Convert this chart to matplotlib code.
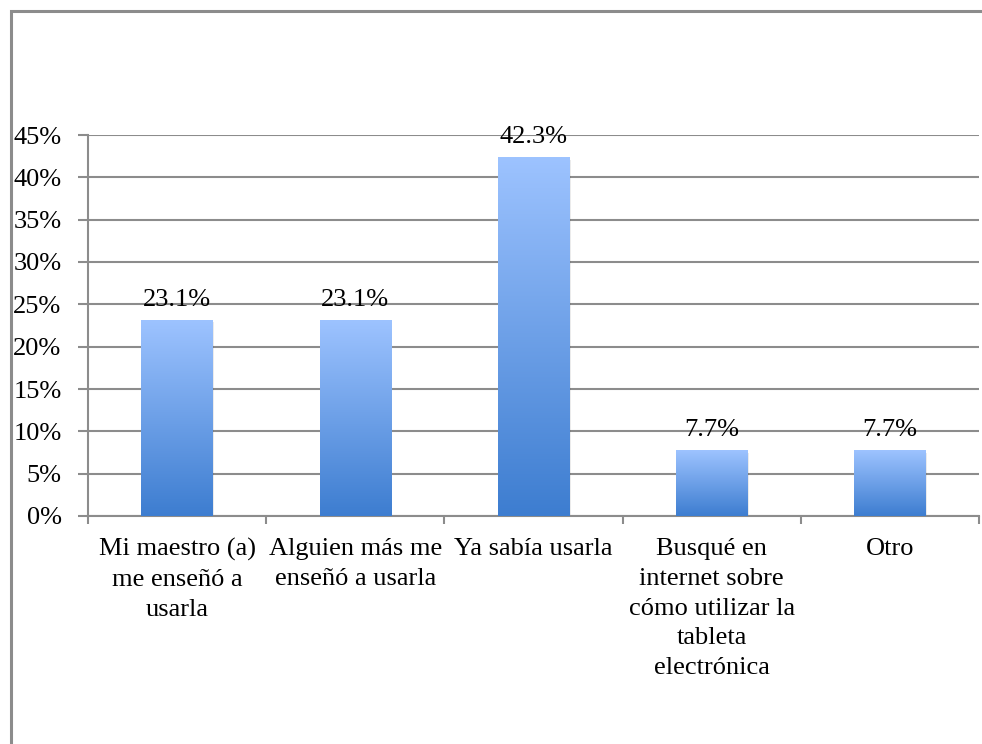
import matplotlib
matplotlib.use("Agg")
import matplotlib.pyplot as plt
import numpy as np
from matplotlib.colors import LinearSegmentedColormap
from matplotlib.patches import Rectangle

categories = ["Mi maestro (a)\nme enseñó a\nusarla",
              "Alguien más me\nenseñó a usarla",
              "Ya sabía usarla",
              "Busqué en\ninternet sobre\ncómo utilizar la\ntableta\nelectrónica",
              "Otro"]
values = [23.1, 23.1, 42.3, 7.7, 7.7]
value_labels = ["23.1%", "23.1%", "42.3%", "7.7%", "7.7%"]
yticks = [0, 5, 10, 15, 20, 25, 30, 35, 40, 45]
ytick_labels = ["0%", "5%", "10%", "15%", "20%", "25%", "30%", "35%", "40%", "45%"]

FAM = ['Liberation Serif', 'DejaVu Serif']
plt.rcParams['font.family'] = FAM
FS = 19

W, H = 982, 744
fig = plt.figure(figsize=(W / 100, H / 100), dpi=100)
fig.patch.set_facecolor("white")

# outer border (only left and top visible)
fig.add_artist(Rectangle((10.5 / W, -0.1), 1.2, 1.1 - 11.5 / H, transform=fig.transFigure,
                         fill=False, edgecolor="#8c8c8c", linewidth=2.2, zorder=0))

ax = fig.add_axes([88 / W, (H - 516) / H, (979 - 88) / W, (516 - 135) / H])
grid_col = "#8c8c8c"

x = np.arange(len(categories))
bars = ax.bar(x, values, width=0.4, color="none", zorder=3)

cmap = LinearSegmentedColormap.from_list("g", ["#3d7dd0", "#9dc3ff"])
grad = np.linspace(0, 1, 256).reshape(-1, 1)
for b in bars:
    x0, w, h = b.get_x(), b.get_width(), b.get_height()
    ax.add_patch(Rectangle((x0 + 0.008, -0.2), w, h, facecolor="#000000", alpha=0.08,
                           edgecolor="none", zorder=2.5))
    ax.imshow(grad, cmap=cmap, origin="lower", aspect="auto",
              extent=(x0, x0 + w, 0, h), zorder=3, interpolation="bilinear")

for xi, v, lab in zip(x, values, value_labels):
    ax.annotate(lab, (xi, v), xytext=(0, 7), textcoords="offset points",
                ha="center", va="bottom", fontsize=FS, family=FAM, color="#000000", zorder=5)

ax.set_xlim(-0.5, len(categories) - 0.5)
ax.set_ylim(0, 45)
ax.set_yticks(yticks)
ax.set_yticklabels(ytick_labels, fontsize=FS, family=FAM)
ax.set_xticks(x)
ax.set_xticklabels(categories, fontsize=FS, family=FAM, linespacing=1.45)
ax.set_xticks(np.arange(len(categories) + 1) - 0.5, minor=True)
ax.tick_params(axis="x", which="major", length=0, pad=16)
ax.tick_params(axis="x", which="minor", length=6, width=1.5, color=grid_col)
ax.tick_params(axis="y", length=7, width=1.5, color=grid_col, pad=12)

ax.yaxis.grid(True, color=grid_col, linewidth=1.5, zorder=0)
ax.set_axisbelow(True)
for s in ["top", "right"]:
    ax.spines[s].set_visible(False)
for s in ["left", "bottom"]:
    ax.spines[s].set_color(grid_col)
    ax.spines[s].set_linewidth(1.5)

fig.savefig("out.png", dpi=100)
